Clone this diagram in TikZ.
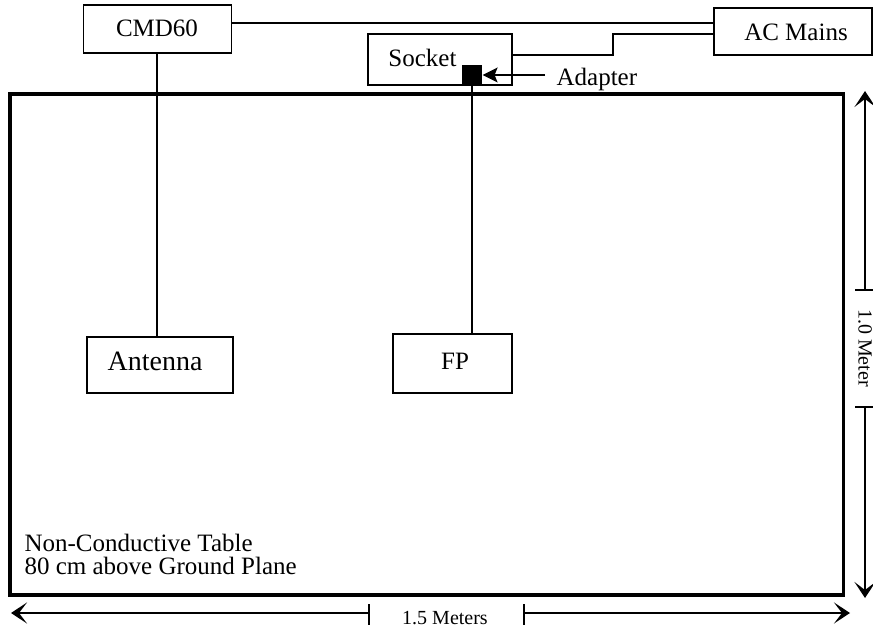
\documentclass[tikz,border=0pt]{standalone}
\usepackage{fontspec}
\setmainfont{Liberation Serif}
\usetikzlibrary{arrows.meta,calc}
\begin{document}
\begin{tikzpicture}[x=1pt,y=-1pt,line width=1.2pt,
  box/.style={draw,rectangle,inner sep=0pt,line width=1.4pt},
  lbl/.style={font=\fontsize{25}{23}\selectfont,inner sep=0pt,anchor=base},
  dimtext/.style={font=\fontsize{20}{24}\selectfont,inner sep=0pt},
  dimarrow/.style={-{Stealth[length=16pt,width=21pt,inset=8pt]},line width=1.5pt},
  wire/.style={line width=1.3pt}]
\useasboundingbox (0,0) rectangle (873,631);
% table
\node[draw,rectangle,line width=3.5pt,minimum width=833.5pt,minimum height=501pt,inner sep=0pt] (table) at (426.75,344.5) {};
% boxes
\node[box,minimum width=148pt,minimum height=48pt] (cmd) at (157.5,29) {};
\node[lbl] (cmdt) at (157,37) {CMD60};
\node[box,minimum width=158pt,minimum height=47pt] (acm) at (793,31.5) {};
\node[lbl] (acmt) at (796,40.5) {AC Mains};
\node[box,minimum width=144pt,minimum height=51pt] (sock) at (440,59.5) {};
\node[lbl] (sockt) at (422.5,67) {Socket};
\node[fill=black,minimum size=20pt,inner sep=0pt] (adp) at (472,75) {};
\node[lbl,anchor=base west] (adpt) at (556,86) {Adapter};
\coordinate (adparrow) at (545,75);
\node[box,minimum width=146pt,minimum height=56pt] (ant) at (160,365) {};
\node[font=\fontsize{28}{30}\selectfont,inner sep=0pt,anchor=base] (antt) at (155,370) {Antenna};
\node[box,minimum width=119pt,minimum height=59pt] (fp) at (452.5,363.5) {};
\node[font=\fontsize{25}{26}\selectfont,inner sep=0pt,anchor=base] (fpt) at (455,369) {FP};
\node[lbl,anchor=base west] (tabt1) at (24,551) {Non-Conductive Table};
\node[lbl,anchor=base west] (tabt2) at (24,574) {80 cm above Ground Plane};
% wires
\draw[wire] (cmd.east |- 0,23) -- (acm.west |- 0,23);
\draw[wire] (sock.east |- 0,55) -- (613,55) -- (613,34) -- (acm.west |- 0,34);
\draw[wire] (cmd.south -| 157,0) -- (ant.north -| 157,0);
\draw[wire] (adp.south) -- (fp.north -| adp.south);
\draw[wire,-{Stealth[length=15pt,width=15pt,inset=3pt]}] (adparrow) -- (adp.east);
% vertical dimension
\coordinate (vtop) at (865,91);
\coordinate (vbot) at (865,598);
\coordinate (vt1) at (865,290);
\coordinate (vt2) at (865,407);
\node[dimtext,rotate=-90] (vtext) at (865,348) {1.0 Meter};
\draw[dimarrow] (vt1) -- (vtop);
\draw[dimarrow] (vt2) -- (vbot);
\draw[line width=1.4pt] ($(vt1)+(-10,0)$) -- ($(vt1)+(9,0)$);
\draw[line width=1.4pt] ($(vt2)+(-10,0)$) -- ($(vt2)+(9,0)$);
% horizontal dimension
\coordinate (hl) at (11,613);
\coordinate (hr) at (850,613);
\coordinate (ht1) at (369,613);
\coordinate (ht2) at (524,613);
\node[dimtext,anchor=base] (htext) at (445,624) {1.5 Meters};
\draw[dimarrow] (ht1) -- (hl);
\draw[dimarrow] (ht2) -- (hr);
\draw[line width=1.4pt] ($(ht1)+(0,-9)$) -- ($(ht1)+(0,12)$);
\draw[line width=1.4pt] ($(ht2)+(0,-9)$) -- ($(ht2)+(0,12)$);
\end{tikzpicture}
\end{document}
